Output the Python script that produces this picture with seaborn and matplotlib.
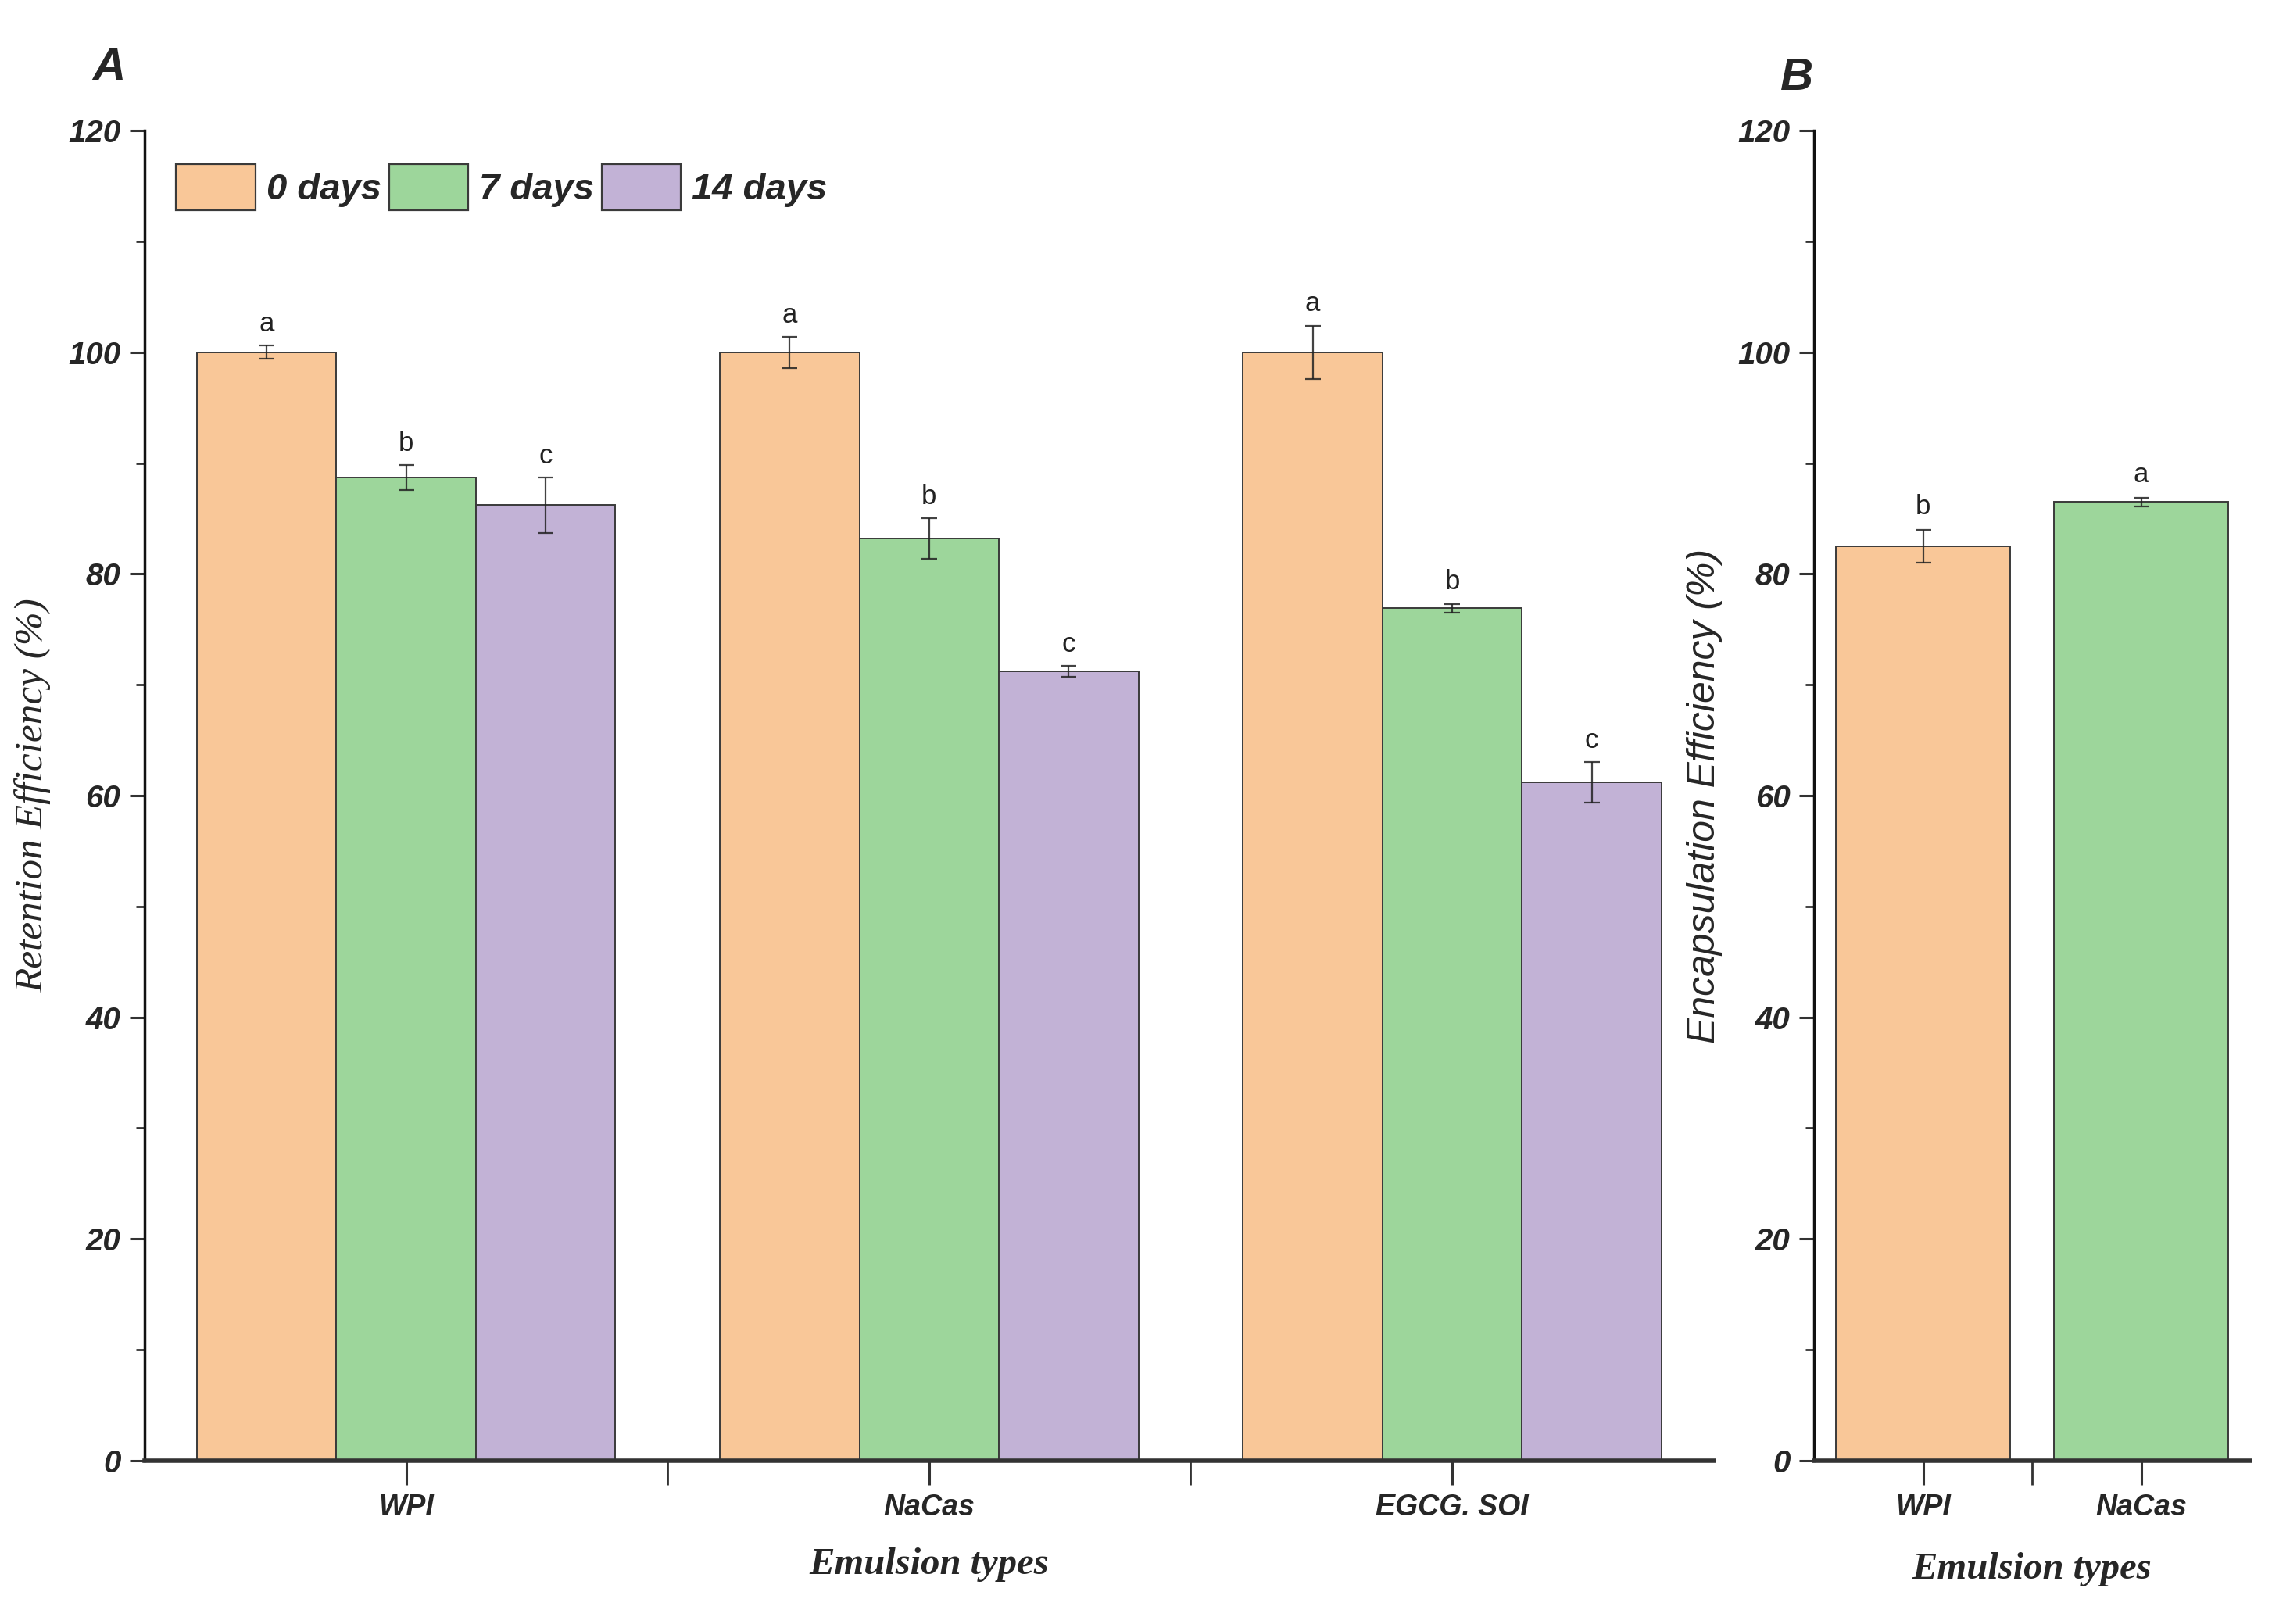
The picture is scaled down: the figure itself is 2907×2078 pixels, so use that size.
import numpy as np
import pandas as pd
import matplotlib
matplotlib.use("Agg")
import matplotlib.pyplot as plt
from matplotlib.ticker import MultipleLocator
import seaborn as sns

# ---------------- data ----------------
emulsions_a = ["WPI", "NaCas", "EGCG. SOI"]
storage = ["0 days", "7 days", "14 days"]
retention_0d = [100.0, 100.0, 100.0]
retention_7d = [88.7, 83.2, 76.9]
retention_14d = [86.2, 71.2, 61.2]
err_0d = [0.6, 1.4, 2.4]
err_7d = [1.1, 1.8, 0.4]
err_14d = [2.5, 0.5, 1.8]
letters_0d = ["a", "a", "a"]
letters_7d = ["b", "b", "b"]
letters_14d = ["c", "c", "c"]

emulsions_b = ["WPI", "NaCas"]
encapsulation = [82.5, 86.5]
encap_err = [1.5, 0.4]
letters_b = ["b", "a"]

colors = ["#F9C798", "#9DD69B", "#C2B2D6"]

# ---------------- style ----------------
sns.set_theme(style="ticks")
plt.rcParams["font.family"] = ["Liberation Sans", "DejaVu Sans"]

fig = plt.figure(figsize=(29.07, 20.78), dpi=100)
axA = fig.add_axes([0.0636, 0.1006, 0.6907, 0.8190])
axB = fig.add_axes([0.7985, 0.1006, 0.1919, 0.8190])

tick_font = dict(family="Liberation Sans", weight="bold", style="italic", size=29)
xtick_font = dict(family="Liberation Sans", weight="bold", style="italic", size=27)
serif_lab = dict(family="Liberation Serif", weight="bold", style="italic", size=35)

# ---------------- panel A ----------------
dfA = pd.DataFrame({
    "Emulsion": emulsions_a * 3,
    "Storage": [s for s in storage for _ in emulsions_a],
    "Value": retention_0d + retention_7d + retention_14d,
})
sns.barplot(data=dfA, x="Emulsion", y="Value", hue="Storage", order=emulsions_a,
            hue_order=storage, palette=colors, width=0.8, errorbar=None,
            edgecolor="#3a3a3a", linewidth=1.4, saturation=1, ax=axA)

errs_A = [err_0d, err_7d, err_14d]
vals_A = [retention_0d, retention_7d, retention_14d]
lets_A = [letters_0d, letters_7d, letters_14d]
for cont, vals, errs, lets in zip(axA.containers, vals_A, errs_A, lets_A):
    xs = [p.get_x() + p.get_width() / 2 for p in cont.patches]
    axA.errorbar(xs, vals, yerr=errs, fmt="none", ecolor="#222222", elinewidth=1.6,
                 capsize=7, capthick=1.6, alpha=0.85, zorder=5)
    for x, v, e, l in zip(xs, vals, errs, lets):
        axA.text(x, v + e + 0.8, l, ha="center", va="bottom", fontsize=25,
                 family="Liberation Sans", color="#222222")

axA.set_xlim(-0.5, 2.5)
axA.set_ylim(0, 120)
axA.yaxis.set_major_locator(MultipleLocator(20))
axA.yaxis.set_minor_locator(MultipleLocator(10))
axA.set_xticks([0, 1, 2])
axA.set_xticks([0.5, 1.5], minor=True)
axA.set_xticklabels(emulsions_a, **xtick_font)
for t in axA.get_yticklabels():
    t.set_fontproperties(matplotlib.font_manager.FontProperties(**tick_font))
axA.set_xlabel("Emulsion types", labelpad=24, **serif_lab)
axA.set_ylabel("Retention Efficiency (%)", labelpad=16,
               family="Liberation Serif", style="italic", size=37)

leg = axA.legend(loc="upper left", bbox_to_anchor=(-0.001, 1.0), ncol=3, frameon=False,
                 handlelength=2.15, handleheight=1.55, handletextpad=0.3, columnspacing=0.2,
                 prop=dict(family="Liberation Sans", weight="bold", style="italic", size=34),
                 title=None)
for h in leg.legend_handles:
    h.set_edgecolor("#3a3a3a")
    h.set_linewidth(1.6)

# ---------------- panel B ----------------
dfB = pd.DataFrame({"Emulsion": emulsions_b, "Value": encapsulation})
sns.barplot(data=dfB, x="Emulsion", y="Value", hue="Emulsion", order=emulsions_b,
            hue_order=emulsions_b, palette=colors[:2], width=0.8, errorbar=None,
            edgecolor="#3a3a3a", linewidth=1.4, saturation=1, legend=False, ax=axB)
xsB = []
for cont in axB.containers:
    for p in cont.patches:
        if p.get_height() > 0:
            xsB.append(p.get_x() + p.get_width() / 2)
xsB = sorted(xsB)
axB.errorbar(xsB, encapsulation, yerr=encap_err, fmt="none", ecolor="#222222",
             elinewidth=1.6, capsize=7, capthick=1.6, alpha=0.85, zorder=5)
for x, v, e, l in zip(xsB, encapsulation, encap_err, letters_b):
    axB.text(x, v + e + 0.9, l, ha="center", va="bottom", fontsize=25,
             family="Liberation Sans", color="#222222")

axB.set_xlim(-0.5, 1.5)
axB.set_ylim(0, 120)
axB.yaxis.set_major_locator(MultipleLocator(20))
axB.yaxis.set_minor_locator(MultipleLocator(10))
axB.set_xticks([0, 1])
axB.set_xticks([0.5], minor=True)
axB.set_xticklabels(emulsions_b, **xtick_font)
for t in axB.get_yticklabels():
    t.set_fontproperties(matplotlib.font_manager.FontProperties(**tick_font))
axB.set_xlabel("Emulsion types", labelpad=28, **serif_lab)
axB.set_ylabel("Encapsulation Efficiency (%)", labelpad=14,
               family="Liberation Sans", style="italic", size=36)

# ---------------- common axis styling ----------------
for ax in (axA, axB):
    sns.despine(ax=ax)
    ax.spines["left"].set_linewidth(2.5)
    ax.spines["bottom"].set_linewidth(4)
    ax.spines["left"].set_color("#111111")
    ax.spines["bottom"].set_color("#333333")
    ax.tick_params(axis="both", which="major", direction="out", length=14, width=2.2,
                   color="#333333", pad=8)
    ax.tick_params(axis="both", which="minor", direction="out", length=8, width=2.0,
                   color="#333333")
    ax.tick_params(axis="x", which="both", length=22)

fig.text(0.048, 0.958, "A", family="Liberation Sans", weight="bold", style="italic",
         size=42, ha="center", va="center")
fig.text(0.791, 0.952, "B", family="Liberation Sans", weight="bold", style="italic",
         size=42, ha="center", va="center")

fig.savefig("out.png", dpi=100, facecolor="white")
